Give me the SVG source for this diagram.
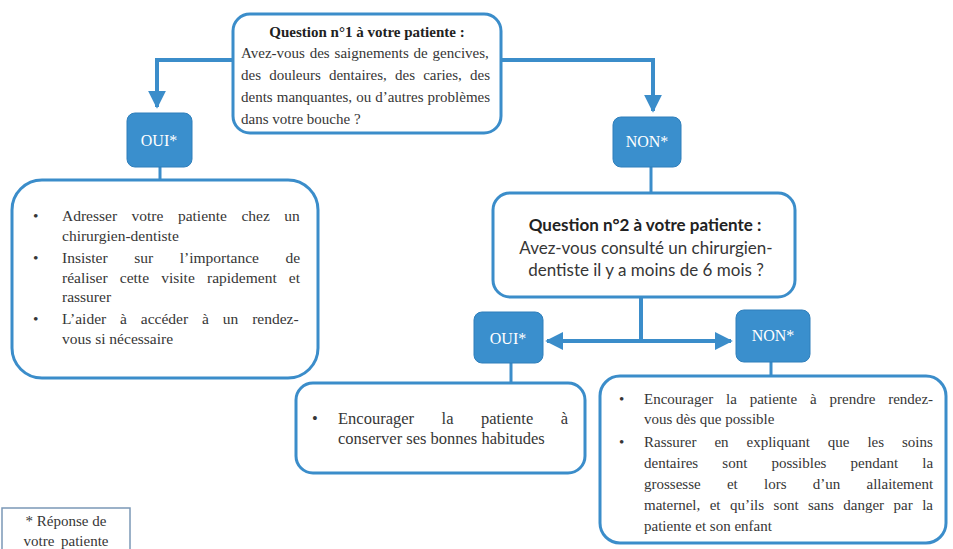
<svg xmlns="http://www.w3.org/2000/svg" width="953" height="549" viewBox="0 0 953 549">
<defs>
<marker id="ah" viewBox="0 0 10 10" refX="9" refY="5" markerWidth="4.5" markerHeight="4.5" orient="auto-start-reverse" markerUnits="strokeWidth">
<path d="M0,0 L10,5 L0,10 z" fill="#3b8dca"/>
</marker>
<style>
.box{fill:#fff;stroke:#3b8dca;stroke-width:3}
.tag{fill:#3a8fcd;stroke:#2f7fbb;stroke-width:1}
.tagt{font-family:'Liberation Serif','DejaVu Serif',serif;font-size:16px;fill:#fff;text-anchor:middle}
.t{font-family:'Liberation Serif','DejaVu Serif',serif;font-size:15px;fill:#363636}
.tl{font-family:'Liberation Serif','DejaVu Serif',serif;font-size:15.5px;fill:#363636}
.tm{font-family:'Liberation Serif','DejaVu Serif',serif;font-size:16.5px;fill:#363636}
.tb{font-family:'Liberation Serif','DejaVu Serif',serif;font-size:15px;font-weight:bold;fill:#222;text-anchor:middle}
.s{font-family:Lato,'Open Sans',sans-serif;font-size:17px;fill:#363636;text-anchor:middle}
.sb{font-family:Lato,'Open Sans',sans-serif;font-size:17px;font-weight:bold;fill:#222;text-anchor:middle}
.c{fill:none;stroke:#3b8dca;stroke-width:4}
.c2{fill:none;stroke:#3b8dca;stroke-width:3}
</style>
</defs>
<rect width="953" height="549" fill="#fff"/>
<g id="connectors">
<path class="c" d="M234,60 H157 V107" marker-end="url(#ah)"/>
<path class="c" d="M500,60 H653 V111" marker-end="url(#ah)"/>
<path class="c2" d="M160,166 V181"/>
<path class="c2" d="M651,166 V194"/>
<path class="c" d="M641,297 V341"/>
<path class="c" d="M547,341 H731" marker-start="url(#ah)" marker-end="url(#ah)"/>
<path class="c2" d="M511,362 V384"/>
<path class="c2" d="M771,361 V377"/>
</g>
<g id="q1">
<rect class="box" x="233" y="14" width="268" height="119" rx="17"/>
<text class="tb" x="367" y="37">Question n°1 à votre patiente :</text>
<text class="t" x="241" y="58" word-spacing="1.1">Avez-vous des saignements de gencives,</text>
<text class="t" x="241" y="80" word-spacing="4.4">des douleurs dentaires, des caries, des</text>
<text class="t" x="241" y="102" word-spacing="0.3">dents manquantes, ou d’autres problèmes</text>
<text class="t" x="241" y="124">dans votre bouche ?</text>
</g>
<g id="oui1">
<rect class="tag" x="127" y="113" width="65" height="54" rx="8"/>
<text class="tagt" x="159" y="146">OUI*</text>
</g>
<g id="non1">
<rect class="tag" x="613" y="117" width="68" height="50" rx="8"/>
<text class="tagt" x="647" y="147">NON*</text>
</g>
<g id="a1">
<rect class="box" x="12" y="180" width="306" height="198" rx="30"/>
<text class="tl" x="33" y="221">•</text>
<text class="tl" x="62" y="221" word-spacing="10.6">Adresser votre patiente chez un</text>
<text class="tl" x="62" y="241">chirurgien-dentiste</text>
<text class="tl" x="33" y="263">•</text>
<text class="tl" x="62" y="263" word-spacing="22.7">Insister sur l’importance de</text>
<text class="tl" x="62" y="283" word-spacing="8.3">réaliser cette visite rapidement et</text>
<text class="tl" x="62" y="302">rassurer</text>
<text class="tl" x="33" y="324">•</text>
<text class="tl" x="62" y="324" word-spacing="10">L’aider à accéder à un rendez-</text>
<text class="tl" x="62" y="344">vous si nécessaire</text>
</g>
<g id="q2">
<rect class="box" x="493" y="193" width="302" height="104" rx="17"/>
<text class="sb" x="645" y="231">Question n°2 à votre patiente :</text>
<text class="s" x="646" y="254">Avez-vous consulté un chirurgien-</text>
<text class="s" x="646" y="276">dentiste il y a moins de 6 mois ?</text>
</g>
<g id="oui2">
<rect class="tag" x="474" y="312" width="69" height="51" rx="8"/>
<text class="tagt" x="508" y="344">OUI*</text>
</g>
<g id="non2">
<rect class="tag" x="736" y="310" width="74" height="52" rx="8"/>
<text class="tagt" x="773" y="341">NON*</text>
</g>
<g id="a2">
<rect class="box" x="296" y="383" width="289" height="90" rx="17"/>
<text class="tm" x="312" y="424">•</text>
<text class="tm" x="338" y="424" word-spacing="23.4">Encourager la patiente à</text>
<text class="tm" x="338" y="444">conserver ses bonnes habitudes</text>
</g>
<g id="a3">
<rect class="box" x="600" y="376" width="346" height="167" rx="20"/>
<text class="t" x="619" y="404">•</text>
<text class="t" x="644" y="404" word-spacing="9.1">Encourager la patiente à prendre rendez-</text>
<text class="t" x="644" y="424">vous dès que possible</text>
<text class="t" x="619" y="447">•</text>
<text class="t" x="644" y="447" word-spacing="14.2">Rassurer en expliquant que les soins</text>
<text class="t" x="644" y="468" word-spacing="20.4">dentaires sont possibles pendant la</text>
<text class="t" x="644" y="489" word-spacing="22.5">grossesse et lors d’un allaitement</text>
<text class="t" x="644" y="510" word-spacing="5.7">maternel, et qu’ils sont sans danger par la</text>
<text class="t" x="644" y="531">patiente et son enfant</text>
</g>
<g id="note">
<rect x="2" y="508" width="128" height="45" fill="#fff" stroke="#7b98b6" stroke-width="1.5"/>
<text class="t" x="66" y="526" text-anchor="middle" font-size="13.5">* Réponse de</text>
<text class="t" x="66" y="546" text-anchor="middle" font-size="13.5" word-spacing="3">votre patiente</text>
</g>
</svg>
